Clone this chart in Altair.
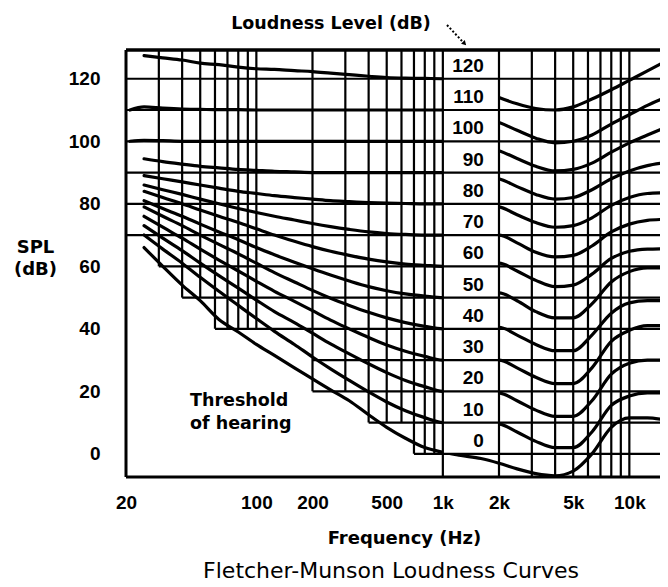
import altair as alt
import pandas as pd
import numpy as np

# ---------------- data ----------------
freqs = [21, 25, 31.5, 40, 50, 63, 80, 100, 125, 160, 200, 250, 315, 400, 500, 630, 800,
         1000, 1250, 1600, 2000, 2500, 3150, 4000, 5000, 6300, 8000, 10000, 12500, 15000]

curve_0 = [None, 66, 60, 54, 49, 43, 39, 35, 31.5, 27.5, 24, 20.5, 17, 12.5, 8.5, 5, 2,
           0.5, -0.5, -1.5, -3, -4.8, -6.3, -7, -5.5, 0, 8.5, 11.5, 11.5, 11]
curve_10 = [None, 70, 65.5, 61, 56.5, 52, 47.5, 43.3, 39.2, 35, 31, 27.2, 23.5, 19.8, 16.6, 13.8, 11.6,
            10, 9.8, 9.7, 9.5, 7, 4, 2, 2, 7, 15.5, 18.5, 19.5, 19.5]
curve_20 = [None, 73, 69, 65, 61, 57, 53, 49.2, 45.5, 42, 38.6, 35.2, 32, 28.8, 26, 23.5, 21.5,
            20, 19.9, 19.8, 19.5, 17, 14, 12, 12, 17, 25.5, 29, 30, 30]
curve_30 = [None, 76, 72.5, 69, 65.5, 62, 58.5, 55.2, 52, 48.8, 45.8, 42.8, 40, 37.2, 34.8, 32.8, 31.2,
            30, 30, 30, 30, 27.5, 24.5, 22.5, 22.5, 27.5, 36, 39.5, 41, 41]
curve_40 = [None, 79, 76, 73, 70, 67, 64, 61, 58, 55, 52.3, 49.8, 47.5, 45.3, 43.5, 42, 40.8,
            40, 40.2, 40.4, 40.5, 38, 35, 33, 33, 38, 45, 48.3, 49, 49]
curve_50 = [None, 81, 78.5, 76, 73.5, 71, 68.5, 66, 63.7, 61.3, 59.2, 57.2, 55.3, 53.5, 52.2, 51.2, 50.5,
            50, 50.5, 51, 51.5, 49, 45.5, 43.5, 43.5, 48, 55, 58.3, 59.5, 59.5]
curve_60 = [None, 84, 82, 80, 78, 76, 74, 72, 70, 68, 66.3, 64.8, 63.5, 62.3, 61.4, 60.7, 60.3,
            60, 60.3, 60.7, 61, 58.5, 55.5, 53.5, 54, 57.5, 62.5, 64.8, 65.5, 65.6]
curve_70 = [None, 86, 84.5, 83, 81.5, 80, 78.5, 77.2, 76, 74.8, 73.7, 72.7, 71.8, 71, 70.5, 70.2, 70,
            70, 70, 70, 70, 67.5, 64.5, 63, 63.5, 66.5, 71, 73.5, 74.7, 75]
curve_80 = [None, 89, 88, 87, 86, 85, 84, 83.3, 82.6, 82, 81.5, 81, 80.7, 80.4, 80.2, 80.1, 80,
            80, 79.8, 79.5, 79, 76.5, 74, 72.5, 73, 75.5, 79.5, 82, 83.3, 83.5]
curve_90 = [None, 94.4, 93.5, 92.7, 92, 91.5, 91, 90.7, 90.4, 90.2, 90, 90, 90, 90, 90, 90, 90,
            90, 89.5, 88.8, 88, 85.5, 83, 81.5, 82, 84.5, 88, 90.5, 92.2, 93]
curve_100 = [100, 100.3, 100.2, 100, 100, 100, 100, 100, 100, 100, 100, 100, 100, 100, 100, 100, 100,
             100, 99.3, 98.3, 97, 94.5, 92, 90.5, 91, 93, 96.5, 99.5, 102, 104]
curve_110 = [110, 111, 110.6, 110.3, 110.2, 110.1, 110.1, 110, 110, 110, 110, 110, 110, 110, 110, 110, 110,
             110, 109, 107.5, 106, 103.5, 101, 99.5, 100, 102, 105.5, 108.5, 111.5, 113.6]
curve_120 = [None, 127.4, 126.7, 126, 125, 124.5, 123.7, 123.2, 123, 122.6, 122.3, 121.8, 121.3, 120.8, 120.4, 120.2, 120.1,
             120, 118.5, 116.5, 114, 112, 110.5, 110, 111, 113.5, 116.5, 119.5, 122.5, 125]

phons = [0, 10, 20, 30, 40, 50, 60, 70, 80, 90, 100, 110, 120]
curves = [curve_0, curve_10, curve_20, curve_30, curve_40, curve_50, curve_60,
          curve_70, curve_80, curve_90, curve_100, curve_110, curve_120]
phon_labels = [str(p) for p in phons]

x_tick_values = [20, 100, 200, 500, 1000, 2000, 5000, 10000]
x_tick_labels = ["20", "100", "200", "500", "1k", "2k", "5k", "10k"]
y_tick_values = [0, 20, 40, 60, 80, 100, 120]

grid_freqs = [30, 40, 50, 60, 70, 80, 90, 100, 200, 300, 400, 500, 600, 700, 800, 900,
              1000, 2000, 3000, 4000, 5000, 6000, 7000, 8000, 9000, 10000]
grid_levels = [0, 10, 20, 30, 40, 50, 60, 70, 80, 90, 100, 110, 120]

# ---------------- tables ----------------
rows = []
for p, vals in zip(phons, curves):
    for f, v in zip(freqs, vals):
        if v is not None:
            rows.append({"freq": f, "spl": v, "phon": p})
df = pd.DataFrame(rows)

X_MIN, X_MAX = 20, 14600
Y_MIN, Y_MAX = -7.4, 129.2
W, H = 534, 427

# grid lines are only drawn above the threshold curve at low frequency
thr_f = [f for f, v in zip(freqs, curve_0) if v is not None]
thr_v = [v for v in curve_0 if v is not None]
def thr(f):
    return float(np.interp(np.log10(f), np.log10(thr_f), thr_v))

def grid_bottom(f):
    if f >= 1000:
        return Y_MIN
    return float(np.round(thr(f) / 10.0) * 10)

vgrid = pd.DataFrame({"f": grid_freqs, "bottom": [grid_bottom(f) for f in grid_freqs]})
all_v = [20] + grid_freqs
hstart = []
for L in grid_levels:
    s = next(f for f in all_v if grid_bottom(f) <= L + 1e-9)
    hstart.append(s)
hgrid = pd.DataFrame({"level": grid_levels, "start": hstart})
labels_df = pd.DataFrame({"phon": phons, "label": phon_labels})

xs = alt.Scale(type="log", domain=[X_MIN, X_MAX], nice=False)
ys = alt.Scale(domain=[Y_MIN, Y_MAX], nice=False, zero=False)

label_expr = "{" + ",".join(f"'{v}':'{t}'" for v, t in zip(x_tick_values, x_tick_labels)) + "}[''+datum.value]"

TICK_FONT = "Liberation Sans"
TEXT_FONT = "DejaVu Sans"

x_axis = alt.Axis(values=x_tick_values, labelExpr=label_expr, grid=False, domain=False,
                  ticks=False, tickSize=0, labelPadding=16, labelFont=TICK_FONT,
                  labelFontWeight="bold", labelFontSize=19, labelColor="black",
                  labelFlush=False, labelOverlap=False,
                  title="Frequency (Hz)", titleFont=TEXT_FONT, titleFontWeight="bold",
                  titleFontSize=18, titleColor="black", titleX=278, titleY=66,
                  titleAlign="center", titleBaseline="alphabetic")
y_axis = alt.Axis(values=y_tick_values, grid=False, domain=False, ticks=False, tickSize=0,
                  labelPadding=26, labelFont=TICK_FONT, labelFontWeight="bold",
                  labelFontSize=19, labelColor="black", labelFlush=False,
                  title=["SPL", "(dB)"], titleAngle=0, titleX=-91, titleY=202,
                  titleAlign="center", titleBaseline="alphabetic", titleFont=TEXT_FONT,
                  titleFontWeight="bold", titleFontSize=18, titleColor="black",
                  titleLineHeight=22)

lines = alt.Chart(df).mark_line(color="black", strokeWidth=3.2, interpolate="monotone",
                                clip=True, strokeCap="round").encode(
    x=alt.X("freq:Q", scale=xs, axis=x_axis),
    y=alt.Y("spl:Q", scale=ys, axis=y_axis),
    detail="phon:N",
)

column_mask = alt.Chart(labels_df.head(1)).mark_rect(color="white").encode(
    x=alt.XDatum(1000, scale=xs, axis=x_axis),
    x2=alt.X2Datum(2000),
    y=alt.YDatum(0, scale=ys, axis=y_axis),
    y2=alt.value(0),
)

vrules = alt.Chart(vgrid).mark_rule(color="black", strokeWidth=2.2).encode(
    x=alt.X("f:Q", scale=xs, axis=x_axis),
    y=alt.Y("bottom:Q", scale=ys, axis=y_axis),
    y2=alt.value(0),
)

hrules = alt.Chart(hgrid).mark_rule(color="black", strokeWidth=2.2).encode(
    x=alt.X("start:Q", scale=xs, axis=x_axis),
    x2=alt.value(W),
    y=alt.Y("level:Q", scale=ys, axis=y_axis),
)

one = pd.DataFrame({"k": [0]})
frame_left = alt.Chart(one).mark_rule(color="black", strokeWidth=3).encode(
    x=alt.value(0), y=alt.value(0), y2=alt.value(H))
frame_top = alt.Chart(one).mark_rule(color="black", strokeWidth=3.5).encode(
    x=alt.value(0), x2=alt.value(W), y=alt.value(0))
frame_bottom = alt.Chart(one).mark_rule(color="black", strokeWidth=3).encode(
    x=alt.value(0), x2=alt.value(W), y=alt.value(H))

curve_labels = alt.Chart(labels_df).mark_text(
    align="right", baseline="middle", dy=-13, font=TICK_FONT, fontWeight="bold",
    fontSize=19, color="black").encode(
    x=alt.XDatum(1660, scale=xs, axis=x_axis),
    y=alt.Y("phon:Q", scale=ys, axis=y_axis),
    text="label:N",
)

top_text = alt.Chart(one).mark_text(
    text="Loudness Level (dB)", align="center", baseline="alphabetic", font=TEXT_FONT,
    fontWeight="bold", fontSize=17.5, color="black").encode(x=alt.value(205), y=alt.value(-21))

arrow_line = alt.Chart(one).mark_rule(color="black", strokeWidth=2, strokeDash=[2, 2]).encode(
    x=alt.value(321), x2=alt.value(336), y=alt.value(-25), y2=alt.value(-9))
arrow_head = alt.Chart(one).mark_point(shape="triangle", angle=135, filled=True, color="black",
                                       size=28, opacity=1).encode(x=alt.value(338), y=alt.value(-7))

thresh_text = alt.Chart(one).mark_text(
    text="Threshold\nof hearing", lineBreak="\n", align="left", baseline="alphabetic",
    font=TEXT_FONT, fontWeight="bold", fontSize=17.5, lineHeight=23, color="black").encode(
    x=alt.value(64), y=alt.value(356))

bottom_title = alt.Chart(one).mark_text(
    text="Fletcher-Munson Loudness Curves", align="center", baseline="alphabetic",
    font=TEXT_FONT, fontSize=22, color="black").encode(x=alt.value(265), y=alt.value(528))

chart = alt.layer(
    lines, column_mask, vrules, hrules, frame_left, frame_top, frame_bottom,
    curve_labels, top_text, arrow_line, arrow_head, thresh_text, bottom_title,
).properties(
    width=W, height=H,
    autosize=alt.AutoSizeParams(type="none"),
    padding={"left": 118, "top": 42, "right": 0, "bottom": 106},
    background="white",
).configure_view(stroke=None)

chart.save("out.html", embed_options={"renderer": "svg", "actions": False})
